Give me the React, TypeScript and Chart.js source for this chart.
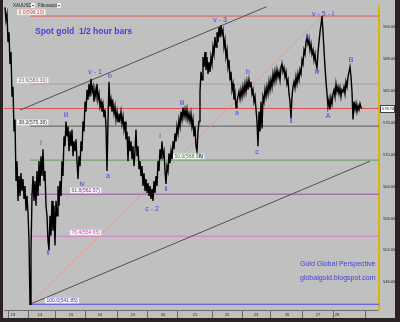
import React, { useEffect, useRef } from "react";
import { Chart, registerables } from "chart.js";
Chart.register(...registerables);

// x unit: bar slot (one slot per screen column of half-hour bars), first bar at slot 1
const FIRST_SLOT = 1;
const prices = [
597.74,595.31,596.43,591.20,593.07,587.09,589.33,580.93,582.79,574.39,
576.63,565.05,568.79,561.31,565.98,562.25,566.54,563.18,565.42,561.69,
564.12,559.45,562.25,559.07,553.84,541.85,551.97,562.25,565.98,561.31,
565.05,560.38,566.92,562.25,568.79,564.12,569.72,565.98,571.03,565.05,
566.92,560.38,558.51,553.84,551.97,558.51,554.78,561.31,555.71,560.38,
552.91,561.31,558.51,564.12,560.38,565.05,562.25,568.79,565.98,573.45,
571.59,576.26,573.45,575.32,570.65,574.39,571.59,574.76,569.72,572.52,
570.65,572.89,568.79,565.42,569.72,567.85,572.52,570.65,576.26,574.39,
579.99,578.12,582.23,580.37,583.35,580.93,584.29,581.86,582.79,579.99,
582.23,580.93,583.35,580.37,581.49,579.06,579.99,578.12,579.43,577.19,
578.50,575.32,566.92,576.26,583.73,579.06,580.37,578.12,579.62,577.75,
579.06,576.63,578.12,576.26,577.75,576.63,578.12,575.88,577.19,574.76,
576.26,572.89,574.39,568.79,573.45,570.65,572.52,569.16,571.59,567.85,
570.65,574.76,569.72,571.59,567.29,568.79,565.98,567.85,564.12,566.54,
563.18,565.42,562.81,564.68,562.25,564.12,561.69,563.56,561.31,565.05,
562.81,565.98,564.12,568.79,566.92,571.03,569.16,572.52,569.72,570.65,
566.92,564.49,567.85,566.92,570.28,568.41,570.65,569.16,572.52,571.03,
574.02,572.52,575.32,574.02,576.63,575.32,578.12,576.63,578.87,577.19,
578.50,577.00,578.50,576.63,577.75,576.26,577.75,575.32,576.63,573.45,
575.32,571.59,570.65,574.39,576.26,581.86,585.60,584.10,588.40,586.53,
589.33,585.97,588.40,585.22,587.46,585.60,588.40,587.09,590.27,588.96,
592.13,590.27,593.07,591.20,594.00,592.13,594.37,592.69,593.44,590.27,
591.57,588.40,589.70,586.53,587.84,584.10,585.60,582.23,583.35,580.37,
581.49,578.87,579.99,580.93,581.86,580.55,582.23,580.93,582.79,581.49,
583.35,581.86,583.73,582.23,584.10,582.79,583.73,581.49,582.23,579.99,
580.93,578.50,576.26,571.59,578.12,574.39,579.99,574.95,580.93,579.99,
582.23,580.93,582.79,581.49,583.73,582.23,584.10,582.79,585.22,583.73,
585.60,584.10,585.97,584.66,585.60,584.10,586.53,587.09,585.60,586.34,
584.66,585.60,583.35,584.10,581.49,579.99,576.82,580.93,582.79,583.73,
582.61,584.66,583.35,585.22,584.10,585.97,585.22,587.84,587.09,589.70,
588.96,591.20,592.13,590.83,591.57,589.70,590.83,588.96,589.70,587.84,
588.96,587.09,586.34,589.33,591.20,593.07,594.56,596.10,593.07,589.70,
586.53,583.73,581.49,579.06,580.37,578.50,580.74,579.62,581.49,582.23,
580.93,583.35,581.86,582.79,581.49,582.61,580.93,582.23,581.86,582.79,
581.49,583.73,582.79,584.66,585.60,586.53,584.66,581.86,576.63,579.99,
578.50,579.62,578.12,579.25,578.50,579.62,578.87,578.70
];

const yTicks = [546, 552, 558, 564, 570, 576, 582, 588, 594];
const dayLabels = ["13", "14", "15", "16", "19", "20", "21", "22", "23", "26", "27", "28"];
const dayLabelAt = [9, 36, 67, 96, 129, 159, 191, 223, 252, 283, 314, 333];
const daySeparators = [4, 24, 51, 81, 113, 143, 173, 208, 238, 266, 298, 329, 361];

const fibNames = ["0.0", "23.6", "38.2", "50.0", "61.8", "76.4", "100.0"];
const fibLevels = [596.10, 583.30, 575.38, 568.98, 562.57, 554.65, 541.85];
const fibStartSlot = 26;
const fibLabelSlot = [13, 13, 13, 169, 66, 66, 41];
const lastPrice = 578.70;

const upperChannelX = [16, 263];
const upperChannelY = [578.4, 597.9];
const lowerChannelX = [26, 366];
const lowerChannelY = [541.85, 568.78];
const fibTrendX = [26, 318];
const fibTrendY = [541.85, 596.10];

const waveText = ["i", "ii", "iii", "iv", "v - 1", "a", "b", "c - 2", "i", "ii", "iii", "iv", "v - 3", "a", "b", "c", "i", "ii", "iii", "iv", "v - 5 - I", "A", "B"];
const waveX = [37, 44, 62, 78, 91, 104, 106, 148, 156, 162, 178, 197, 216, 233, 244, 253, 278, 287, 304, 313, 319, 324, 347];
const waveY = [572.15, 551.41, 577.38, 564.49, 585.60, 565.98, 584.85, 559.82, 573.45, 563.56, 579.81, 569.72, 595.31, 577.75, 585.60, 570.47, 587.46, 576.26, 592.13, 585.60, 596.43, 577.19, 587.84];

const titleText = "Spot gold  1/2 hour bars";
const titleAt = { x: 31, y: 593.25 };
const creditLines = ["Gold Global Perspective", "globalgold.blogspot.com"];
const creditAt = { x: 296, y: [549.36, 546.75] };

const X_MIN = 0, X_MAX = 375, Y_MIN = 540.77, Y_MAX = 597.92;

const fibColors = ["#e05a5a", "#b49c9c", "#5c5c5c", "#5aa05a", "#9a4aa6", "#d27ac6", "#4a4ae6"];
const fibTextColors = ["#d03c3c", "#806868", "#404040", "#3c8a3c", "#8a3a96", "#c05ab4", "#3a3ad6"];
const BLUE = "#4646dc";

const deco = {
  id: "deco",
  beforeDraw(chart: any) {
    const { ctx, width, height, chartArea: a, scales } = chart;
    const x = scales.x;
    ctx.save();
    ctx.fillStyle = "#c0c0c0";
    ctx.fillRect(0, 0, width, height);
    const top = Math.round(a.bottom) + 0.5;
    const bot = top + 8;
    ctx.strokeStyle = "#6a6a6a";
    ctx.lineWidth = 1;
    ctx.beginPath();
    ctx.moveTo(a.left, top); ctx.lineTo(a.right, top);
    ctx.moveTo(a.left, bot); ctx.lineTo(width, bot);
    daySeparators.forEach((s) => {
      const px = Math.round(x.getPixelForValue(s)) + 0.5;
      ctx.moveTo(px, top); ctx.lineTo(px, bot);
    });
    ctx.stroke();
    ctx.restore();
  },
  afterDatasetsDraw(chart: any) {
    const { ctx, scales } = chart;
    const x = scales.x, y = scales.y;
    ctx.save();
    ctx.font = "5px Arial";
    ctx.textBaseline = "middle";
    ctx.textAlign = "left";
    fibNames.forEach((n, i) => {
      const txt = `${n}(${fibLevels[i].toFixed(2)})`;
      const px = x.getPixelForValue(fibLabelSlot[i]);
      const ly = y.getPixelForValue(fibLevels[i]);
      const w = ctx.measureText(txt).width + 3;
      ctx.fillStyle = "#f4f4f4";
      ctx.fillRect(px, ly - 6.5, w, 5.5);
      ctx.fillStyle = fibTextColors[i];
      ctx.fillText(txt, px + 1.5, ly - 3.7);
    });
    ctx.font = "7px Arial";
    ctx.textAlign = "center";
    ctx.fillStyle = BLUE;
    waveText.forEach((t, i) => {
      ctx.fillText(t, x.getPixelForValue(waveX[i]), y.getPixelForValue(waveY[i]));
    });
    ctx.textAlign = "left";
    ctx.fillStyle = "#4242d8";
    ctx.font = "bold 8.5px Arial";
    ctx.fillText(titleText, x.getPixelForValue(titleAt.x), y.getPixelForValue(titleAt.y));
    ctx.font = "7px Arial";
    creditLines.forEach((t, i) => {
      ctx.fillText(t, x.getPixelForValue(creditAt.x), y.getPixelForValue(creditAt.y[i]));
    });
    ctx.restore();
  },
  afterDraw(chart: any) {
    const { ctx, width, height, chartArea: a, scales } = chart;
    const y = scales.y;
    ctx.save();
    const py = Math.round(y.getPixelForValue(lastPrice));
    ctx.fillStyle = "#ffffff";
    ctx.fillRect(a.right + 1.5, py - 4, 14, 8);
    ctx.strokeStyle = "#404040";
    ctx.lineWidth = 1;
    ctx.strokeRect(a.right + 1.5, py - 3.5, 14, 7);
    ctx.fillStyle = "#101010";
    ctx.font = "4px Arial";
    ctx.textBaseline = "middle";
    ctx.textAlign = "left";
    ctx.fillText(lastPrice.toFixed(2), a.right + 3, py);
    ctx.font = "4.5px Arial";
    ctx.fillStyle = "#202020";
    ctx.fillText("XAUUSD", 13, 5.5);
    ctx.fillText("Fibonacci", 38, 5.5);
    [[31, 3], [57, 3]].forEach(([bx, by]) => {
      ctx.fillStyle = "#eeeeee";
      ctx.fillRect(bx, by, 4, 5);
      ctx.fillStyle = "#202020";
      ctx.beginPath();
      ctx.moveTo(bx + 1, by + 2); ctx.lineTo(bx + 3, by + 2); ctx.lineTo(bx + 2, by + 3.5);
      ctx.fill();
    });
    ctx.fillStyle = "#2a2222";
    ctx.fillRect(0, 0, 3, height);
    ctx.fillRect(width - 5, 0, 5, height);
    ctx.fillRect(0, height - 4, width, 4);
    ctx.restore();
  },
};

const pts = (xs: number[], ys: number[]) => xs.map((v, i) => ({ x: v, y: ys[i] }));

export default function App() {
  const ref = useRef<HTMLCanvasElement>(null);
  useEffect(() => {
    const priceData = prices.map((p, i) => ({ x: FIRST_SLOT + i, y: p }));
    const line = (data: any[], color: string, w = 1) => ({
      type: "line" as const,
      data,
      borderColor: color,
      borderWidth: w,
      pointRadius: 0,
      tension: 0,
      fill: false,
    });
    const datasets: any[] = [
      line(priceData, "#000000", 1.4),
      line(pts(upperChannelX, upperChannelY), "#505050"),
      line(pts(lowerChannelX, lowerChannelY), "#505050"),
      line(pts(fibTrendX, fibTrendY), "#e29a9a"),
      line([{ x: X_MIN, y: lastPrice }, { x: X_MAX, y: lastPrice }], "#e05050"),
      ...fibLevels.map((lv, i) =>
        line([{ x: fibStartSlot, y: lv }, { x: X_MAX, y: lv }], fibColors[i])
      ),
    ];
    const chart = new Chart(ref.current as HTMLCanvasElement, {
      type: "line",
      data: { datasets },
      options: {
        animation: false,
        responsive: false,
        devicePixelRatio: 1,
        layout: { padding: { left: 4, top: 4, right: 0, bottom: 4 } },
        plugins: { legend: { display: false }, tooltip: { enabled: false } },
        scales: {
          x: {
            type: "linear",
            min: X_MIN,
            max: X_MAX,
            afterBuildTicks: (s: any) => { s.ticks = dayLabelAt.map((v) => ({ value: v })); },
            afterFit: (s: any) => { s.height = 8; },
            grid: { display: false, drawTicks: false },
            border: { display: false },
            ticks: {
              autoSkip: false,
              maxRotation: 0,
              padding: 2,
              color: "#202020",
              font: { size: 4, family: "Arial" },
              callback: (_v: any, i: number) => dayLabels[i],
            },
          },
          y: {
            type: "linear",
            position: "right",
            min: Y_MIN,
            max: Y_MAX,
            afterBuildTicks: (s: any) => { s.ticks = yTicks.map((v) => ({ value: v })); },
            afterFit: (s: any) => { s.width = 21; },
            grid: { display: false, drawTicks: false },
            border: { display: true, color: "#d8b800", width: 2 },
            ticks: {
              padding: 4,
              color: "#202020",
              font: { size: 4, family: "Arial" },
              callback: (v: any) => Number(v).toFixed(2),
            },
          },
        },
      },
      plugins: [deco],
    } as any);
    return () => chart.destroy();
  }, []);
  return (
    <div style={{ position: "absolute", left: 0, top: 0, width: 400, height: 322 }}>
      <canvas ref={ref} width={400} height={322} style={{ display: "block", width: 400, height: 322 }} />
    </div>
  );
}
